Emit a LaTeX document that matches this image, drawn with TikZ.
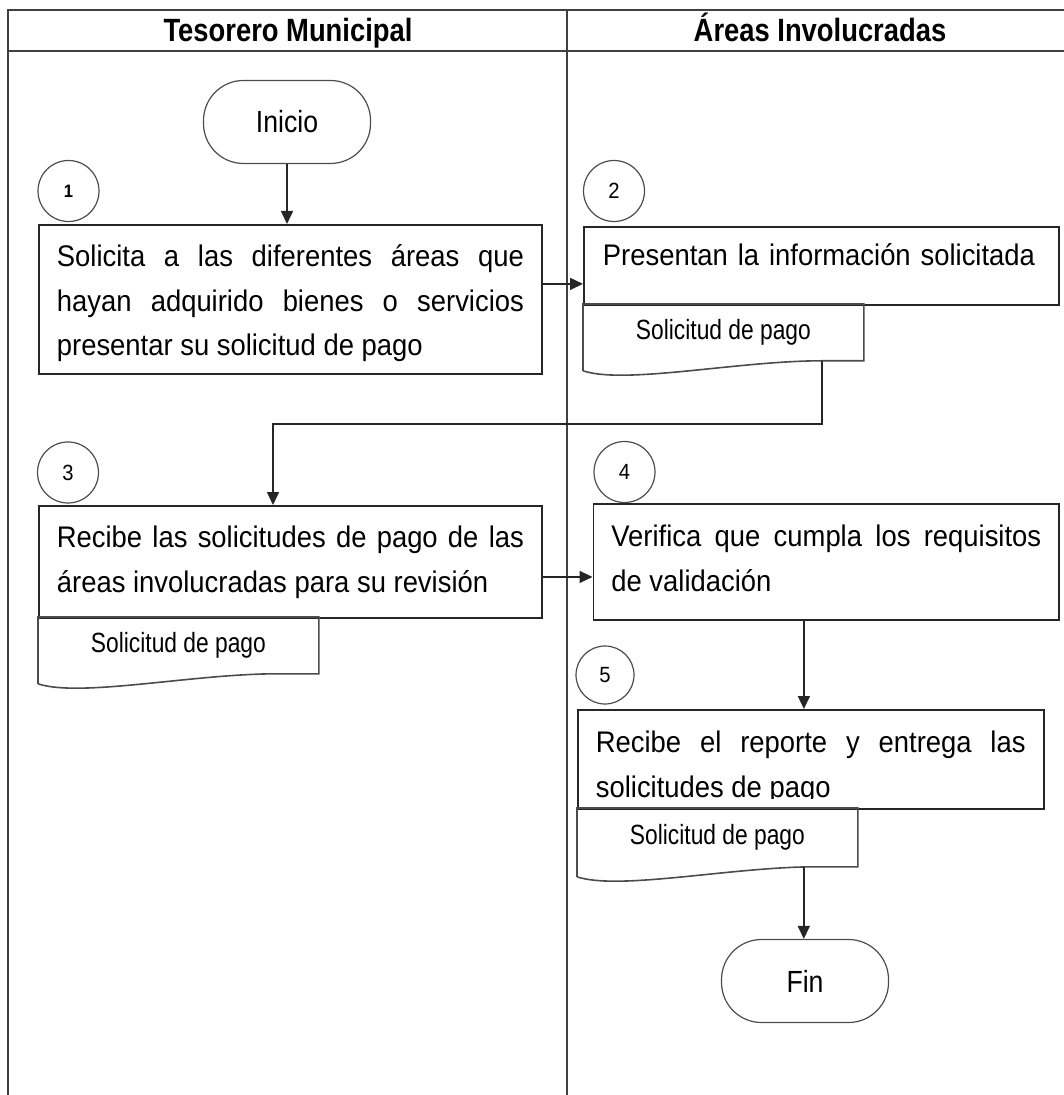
\documentclass[tikz,border=0pt]{standalone}
\usepackage{fontspec}
\setmainfont{Liberation Sans}[FakeStretch=0.92]
\newfontfamily\narrowfont{Liberation Sans}[FakeStretch=0.82]
\newfontfamily\termfont{Liberation Sans}[FakeStretch=0.87]
\newfontfamily\headfont{Liberation Sans}[FakeStretch=0.85]
\usetikzlibrary{arrows.meta}

\newcommand\paperdoc[1]{%
  \draw[paper line]
    ([yshift=-5pt]#1.south west) -- (#1.north west) -- (#1.north east)
    -- (#1.south east) -- ([xshift=-21pt]#1.south east)
    .. controls ([xshift=-63pt]#1.south east)
    and ([xshift=21pt,yshift=-12pt]#1.south west) ..
    ([yshift=-5pt]#1.south west);
}

\begin{document}
\begin{tikzpicture}[
  x=0.5pt,
  y=-0.5pt,
  arr/.tip={Triangle[length=6.5pt,width=6pt]},
  lane/.style={
    draw=black!75,
    line width=1pt
  },
  flow/.style={
    -arr,
    draw=black!85,
    line width=0.8pt
  },
  task/.style={
    draw=black!85,
    line width=0.9pt,
    anchor=north west,
    inner ysep=0pt,
    inner xsep=9pt,
    align=justify,
    font=\fontsize{14.9}{22.3}\selectfont
  },
  paper/.style={
    anchor=north west,
    minimum width=140pt,
    minimum height=28pt,
    inner sep=0pt,
    font=\narrowfont\fontsize{13.9}{15}\selectfont
  },
  paper line/.style={
    draw=black!70,
    line width=0.8pt
  },
  num/.style={
    circle,
    draw=black!70,
    line width=0.6pt,
    minimum size=30.5pt,
    inner sep=0pt,
    font=\fontsize{11}{12}\selectfont
  },
  term/.style={
    draw=black!70,
    line width=0.6pt,
    rounded corners=20pt,
    minimum width=83.5pt,
    minimum height=41.5pt,
    font=\termfont\fontsize{15.3}{17}\selectfont
  },
  head/.style={
    anchor=base,
    font=\headfont\bfseries\fontsize{16.1}{18}\selectfont
  }
]
  \useasboundingbox (0,0) rectangle (1063,1095);

  % swimlanes
  \draw[lane] (8,1100) -- (8,10) -- (1070,10);
  \draw[lane] (8,51) -- (1070,51);
  \draw[lane] (567,10) -- (567,1100);
  \node[head] (lanetes) at (288,42) {Tesorero Municipal};
  \node[head] (laneareas) at (820,42) {Áreas Involucradas};

  \node[term] (inicio) at (287,122) {Inicio};

  % step numbers
  \node[num] (n1) at (68.5,191) {\bfseries\fontsize{9}{10}\selectfont 1};
  \node[num] (n2) at (614,191) {2};
  \node[num] (n3) at (68,472.5) {3};
  \node[num] (n4) at (624.5,472) {4};
  \node[num, minimum size=29pt] (n5) at (605,675) {5};

  % tasks
  \node[task, text width=233.5pt, text height=20.85pt, text depth=53.65pt]
    (box1) at (38,224)
    {Solicita a las diferentes áreas que\linebreak
     hayan adquirido bienes o servicios\linebreak
     presentar su solicitud de pago};
  \node[task, align=left, inner xsep=9.5pt, text width=218.5pt,
    text height=19.5pt, text depth=19.5pt]
    (box2) at (583,226) {Presentan la información solicitada};
  \node[task, text width=233.5pt, text height=21pt, text depth=35pt]
    (box3) at (38,505)
    {Recibe las solicitudes de pago de las\linebreak
     áreas involucradas para su revisión};
  \node[task, text width=214.9pt, text height=21.65pt, text depth=36.7pt]
    (box4) at (592.5,502.7)
    {Verifica que cumpla los requisitos\linebreak de validación};
  \node[task, text width=214.85pt, text height=21.35pt, text depth=28.15pt]
    (box5) at (577,709)
    {Recibe el reporte y entrega las\linebreak solicitudes de pago};

  % documents
  \node[paper] (doc2) at (583,304) {Solicitud de pago};
  \node[paper] (doc3) at (38,617) {Solicitud de pago};
  \node[paper, minimum height=29pt] (doc5) at (577,808) {Solicitud de pago};
  \paperdoc{doc2}
  \paperdoc{doc3}
  % the last line of step 5 is cut off at the document
  \fill[white] ([shift={(1.2pt,1.2pt)}]box5.south west)
    rectangle ([shift={(-1.2pt,5.5pt)}]box5.south east);
  \paperdoc{doc5}

  \node[term] (fin) at (805,981) {Fin};

  % connectors
  \coordinate (in2) at ([yshift=-9pt]box2.west);
  \coordinate (out2) at ([xshift=-21pt]doc2.south east);
  \coordinate (bend3) at (273,424);
  \coordinate (in4) at ([yshift=-7.5pt]box4.west);
  \coordinate (out4) at ([xshift=-11.2pt]box4.south);
  \coordinate (out5) at ([xshift=-27pt]doc5.south east);

  \draw[flow] (inicio) -- (inicio |- box1.north);
  \draw[flow] (box1.east |- in2) -- (in2);
  \draw[flow] (out2) |- (bend3) -- (bend3 |- box3.north);
  \draw[flow] (box3.east |- in4) -- (in4);
  \draw[flow] (out4) -- (out4 |- box5.north);
  \draw[flow] (out5) -- (out5 |- fin.north);
\end{tikzpicture}
\end{document}
